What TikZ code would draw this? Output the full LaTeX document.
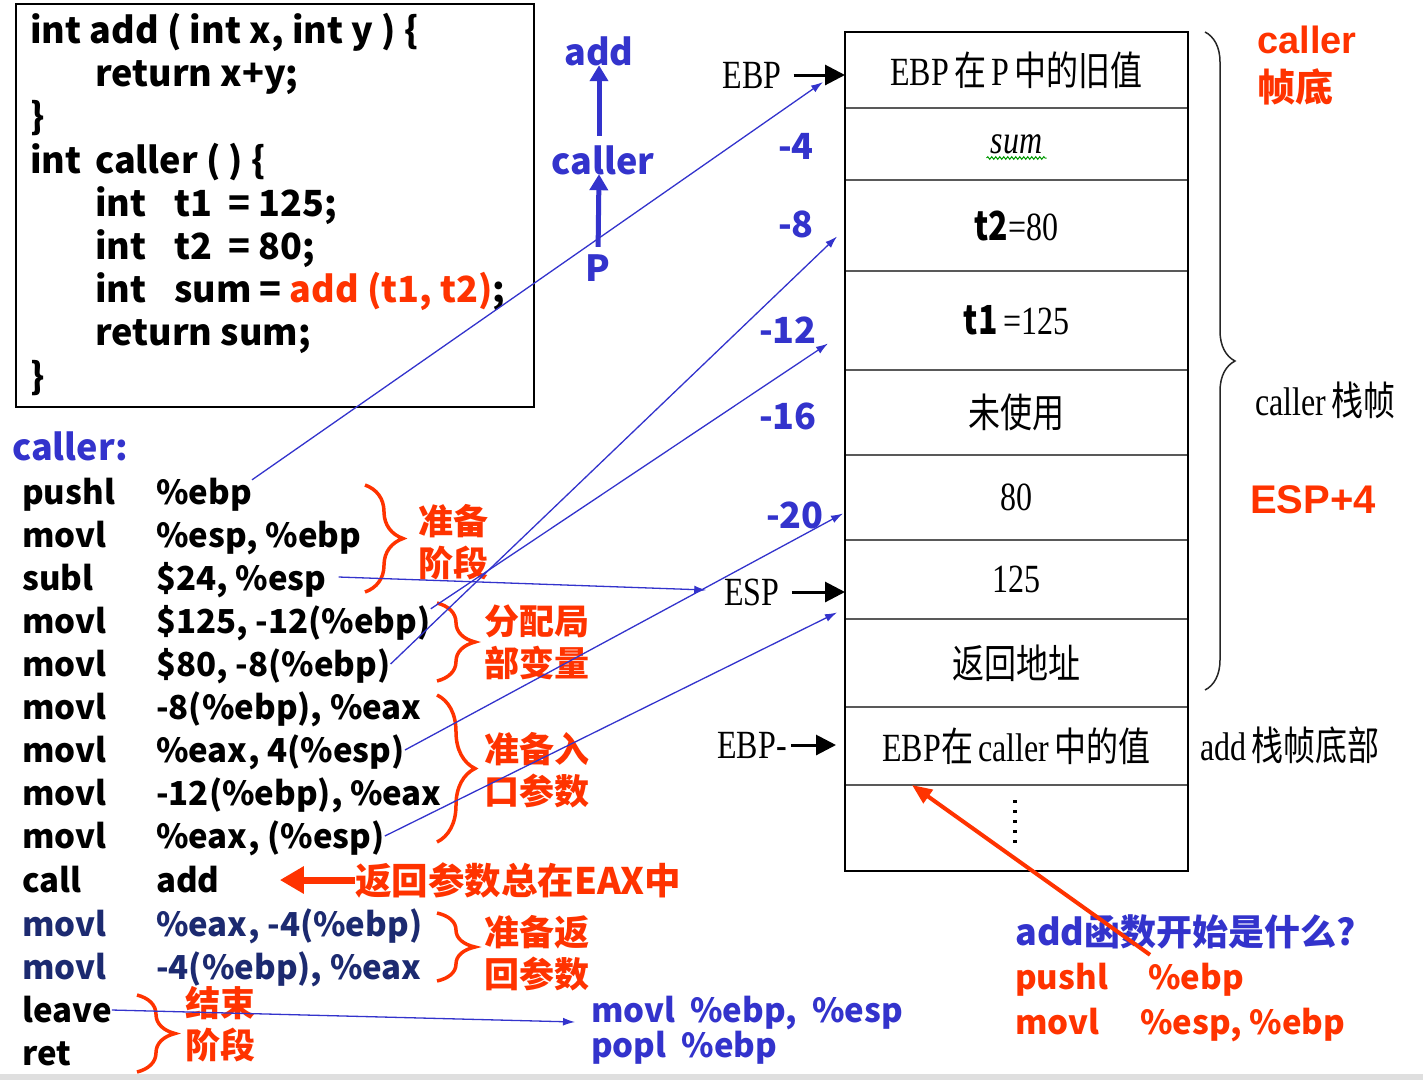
\documentclass[tikz,border=0pt]{standalone}
\usepackage{fontspec}
\usepackage{graphicx}
\usepackage{xcolor}
\usetikzlibrary{arrows.meta,positioning,calc,decorations.pathreplacing,decorations.pathmorphing}
\setmainfont{Liberation Serif}
\newfontfamily\cjk{Noto Sans CJK SC}
\newfontfamily\lsans{Liberation Sans}
\definecolor{lblue}{RGB}{51,51,204}
\definecolor{navy}{RGB}{28,42,112}
\definecolor{redo}{RGB}{255,51,0}
\newcommand{\narrow}[1]{\scalebox{0.8}[1]{#1}}
\newcommand{\zh}[1]{{\cjk #1}}
\newcommand{\widesp}{\spaceskip=15pt\relax}

\begin{document}
\begin{tikzpicture}[x=1pt, y=-1pt,
code/.style={font=\cjk\bfseries\fontsize{33}{40}\selectfont, anchor=west, inner sep=0pt, text height=24pt, text depth=0pt},
src/.style={font=\cjk\bfseries\fontsize{36}{44}\selectfont, anchor=west, inner sep=0pt, text height=26pt, text depth=0pt},
epi/.style={code, text=lblue},
blbl/.style={font=\cjk\bfseries\fontsize{36}{40}\selectfont, text=lblue, inner sep=0pt, text height=26pt, text depth=0pt},
rlbl/.style={font=\cjk\bfseries\fontsize{35}{42}\selectfont, text=redo, align=left, anchor=west, inner sep=0pt},
stk/.style={font=\fontsize{40}{48}\selectfont, inner sep=0pt},
cell/.style={draw=gray!70!black, line width=2.5pt, minimum width=343pt, inner sep=0pt, outer sep=0pt, font=\fontsize{40}{48}\selectfont},
rbrace/.style={draw=redo, line width=3.5pt, decorate, decoration={brace, amplitude=38pt}},
kbrace/.style={draw=gray!30!black, line width=1.5pt, decorate, decoration={brace, amplitude=30pt}},
blink/.style={draw=lblue, line width=1.3pt, -{Latex[length=12pt,width=8pt]}},
karrow/.style={line width=3pt, -{Triangle[length=20pt,width=20pt]}},
barrow/.style={draw=lblue, line width=5pt, -{Triangle[length=16pt,width=18pt]}},
rarrow/.style={draw=redo, line width=7pt, -{Triangle[length=24pt,width=26pt]}}
]
\useasboundingbox (0,0) rectangle (1423,1080);
\fill[gray!25] (0,1074) rectangle (1423,1080);

% C source
\node[draw, line width=1.5pt, minimum width=518pt, minimum height=403pt, anchor=north west, inner sep=0pt] (codebox) at (15,3) {};
\node[src] (c1) at (30,30) {int add ( int x, int y ) \{};
\node[src] (c2) at (95,73) {return x+y;};
\node[src] (c3) at (30,116) {\}};
\node[src] (c4) at (30,160) {int};
\node[src] (c4b) at (95,160) {caller ( ) \{};
\node[src] (c5) at (95,203) {int};
\node[src] (c5b) at (174,203) {t1 \ = 125;};
\node[src] (c6) at (95,246) {int};
\node[src] (c6b) at (174,246) {t2 \ = 80;};
\node[src] (c7) at (95,289) {int};
\node[src] (c7b) at (174,289) {sum = {\color{redo}add (t1, t2)};};
\node[src] (c8) at (95,332) {return sum;};
\node[src] (c9) at (30,376) {\}};

% assembly
\node[blbl, anchor=west] (callerlbl) at (12,447) {caller:};
\node[code] (a1) at (22,492) {\makebox[134pt][l]{pushl}\%ebp};
\node[code] (a2) at (22,535) {\makebox[134pt][l]{movl}\%esp, \%ebp};
\node[code] (a3) at (22,578) {\makebox[134pt][l]{subl}\$24, \%esp};
\node[code] (a4) at (22,621) {\makebox[134pt][l]{movl}\$125, -12(\%ebp)};
\node[code] (a5) at (22,664) {\makebox[134pt][l]{movl}\$80, -8(\%ebp)};
\node[code] (a6) at (22,707) {\makebox[134pt][l]{movl}-8(\%ebp), \%eax};
\node[code] (a7) at (22,750) {\makebox[134pt][l]{movl}\%eax, 4(\%esp)};
\node[code] (a8) at (22,793) {\makebox[134pt][l]{movl}-12(\%ebp), \%eax};
\node[code] (a9) at (22,836) {\makebox[134pt][l]{movl}\%eax, (\%esp)};
\node[code] (a10) at (22,880) {\makebox[134pt][l]{call}add};
\node[code, text=navy] (a11) at (22,924) {\makebox[134pt][l]{movl}\%eax, -4(\%ebp)};
\node[code, text=navy] (a12) at (22,967) {\makebox[134pt][l]{movl}-4(\%ebp), \%eax};
\node[code] (a13) at (22,1010) {leave};
\node[code] (a14) at (22,1053) {ret};

% phases
\draw[rbrace] (365,485) -- (365,592);
\node[rlbl] (prep) at (418,542) {准备\\阶段};
\draw[rbrace] (437,603) -- (437,681);
\node[rlbl] (alloc) at (484,642) {分配局\\部变量};
\draw[rbrace] (437,695) -- (437,842);
\node[rlbl] (args) at (484,770) {准备入\\口参数};
\draw[rbrace] (437,913) -- (437,981);
\node[rlbl] (retv) at (484,953) {准备返\\回参数};
\draw[rbrace] (137,995) -- (137,1072);
\node[rlbl] (fin) at (185,1024) {结束\\阶段};
\node[rlbl, font=\cjk\bfseries\fontsize{36.5}{42}\selectfont] (eax) at (355,880) {返回参数总在EAX中};
\draw[rarrow] (eax.west) -- ($(a10.east)+(60,0)$);

\node[epi] (epi1) at (591,1010) {\widesp movl \%ebp, \%esp};
\node[epi] (epi2) at (591,1045) {\widesp popl \%ebp};

% call chain
\node[blbl] (padd) at (599,52) {add};
\node[blbl] (pcaller) at (603,161) {caller};
\node[blbl] (pp) at (598,268) {P};
\draw[barrow, shorten <=12pt] ([xshift=-4pt]pcaller.north) -- (padd.south);
\draw[barrow, shorten <=8pt] (pp.north) -- ([xshift=-4pt]pcaller.south);

% stack
\node[cell, minimum height=76pt, anchor=north] (r1) at (1016.5,32) {\narrow{EBP\,\zh{在}\,P\,\zh{中的旧值}}};
\node[cell, minimum height=72pt, below=0pt of r1] (r2) {\narrow{\itshape sum}};
\node[cell, minimum height=91pt, below=0pt of r2] (r3) {\narrow{\zh{\bfseries t2}=80}};
\node[cell, minimum height=99pt, below=0pt of r3] (r4) {\narrow{\zh{\bfseries t1}\,=125}};
\node[cell, minimum height=85pt, below=0pt of r4] (r5) {\narrow{\zh{未使用}}};
\node[cell, minimum height=85pt, below=0pt of r5] (r6) {\narrow{80}};
\node[cell, minimum height=79pt, below=0pt of r6] (r7) {\narrow{125}};
\node[cell, minimum height=88pt, below=0pt of r7] (r8) {\narrow{\zh{返回地址}}};
\node[cell, minimum height=78pt, below=0pt of r8] (r9) {\narrow{EBP\zh{在}\,caller\,\zh{中的值}}};
\node[cell, minimum height=86pt, below=0pt of r9] (r10) {};
\draw[line width=2pt] (r1.north west) rectangle (r10.south east);
\draw[green!60!black, line width=1pt, decorate, decoration={snake, amplitude=1.3pt, segment length=4pt}] ($(r2.center)+(-30,14)$) -- ($(r2.center)+(30,14)$);
\draw[line width=4pt, dash pattern=on 3pt off 7pt] ($(r10.center)+(-1.5,-28)$) -- ++(0,48);

\node[stk] (ebp) at (752,75) {\narrow{EBP}};
\draw[karrow] ([xshift=12pt]ebp.east) -- (ebp.east -| r1.west);
\node[stk] (esp) at (752,592) {\narrow{ESP}};
\draw[karrow] ([xshift=12pt]esp.east) -- (esp.east -| r7.west);
\node[stk] (ebpc) at (752,745) {\narrow{EBP-}};
\draw[karrow] ([xshift=4pt]ebpc.east) -- ([xshift=-9pt]ebpc.east -| r9.west);

\node[blbl] (o4) at (796,146) {-4};
\node[blbl] (o8) at (796,224) {-8};
\node[blbl] (o12) at (788,330) {-12};
\node[blbl] (o16) at (788,416) {-16};
\node[blbl] (o20) at (795,515) {-20};

% frame notes
\draw[kbrace] (1205,32) -- (1205,690);
\node[font=\bfseries\fontsize{38}{48}\selectfont, text=redo, align=left, anchor=west, inner sep=0pt] (cbot) at (1257,66) {{\lsans caller}\\\zh{帧底}};
\node[stk, anchor=west] (cframe) at (1255,400) {\narrow{caller\,\zh{栈帧}}};
\node[font=\lsans\bfseries\fontsize{40}{48}\selectfont, text=redo, anchor=west, inner sep=0pt] (esp4) at (1250,500) {ESP+4};
\node[stk, anchor=west] (addbot) at (1200,745) {\narrow{add\,\zh{栈帧底部}}};

\node[blbl, anchor=west] (q) at (1015,932) {add函数开始是什么?};
\node[code, text=redo] (qpush) at (1015,977) {\makebox[133pt][l]{pushl}\%ebp};
\node[code, text=redo] (qmov) at (1015,1022) {\makebox[125pt][l]{movl}\%esp, \%ebp};
\draw[draw=redo, line width=4pt, -{Triangle[length=20pt,width=16pt]}] ($(qpush.north west)+(135,-10)$) -- ($(r9.south west)+(67,0)$);

% links from instructions to the stack
\draw[blink] (a1.north east) -- ($(r1.west)+(-22,12)$);
\draw[blink] ($(a3.east)+(12,-1)$) -- ($(esp.west)+(-18,-2)$);
\draw[blink] (a4.north east) -- ($(r4.west)+(-17,23)$);
\draw[blink] (a5.east) -- ($(r3.west)+(-8,11)$);
\draw[blink] (a7.east) -- ($(r6.west)+(-2,16)$);
\draw[blink] (a9.east) -- ($(r7.west)+(-8,33)$);
\draw[blink] (a13.east) -- ($(epi1.west)+(-16,12)$);
\end{tikzpicture}
\end{document}
